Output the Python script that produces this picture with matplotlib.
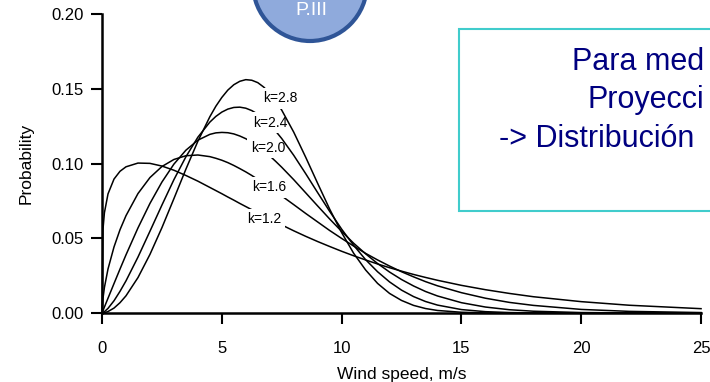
import numpy as np
import matplotlib
import matplotlib.pyplot as plt
from matplotlib.patches import Rectangle, Ellipse

matplotlib.use('agg')
plt.rcParams['font.family'] = ['Liberation Sans', 'DejaVu Sans']

# wind speed (m/s) and probability
speed = [0, 0.04, 0.1, 0.25, 0.5, 0.75, 1, 1.5, 2, 2.5, 3, 3.5, 4, 4.5, 4.75,
         5, 5.25, 5.5, 5.75, 6, 6.25, 6.5, 6.75, 7, 7.25, 7.5, 8, 8.5, 9,
         9.5, 10, 10.5, 11, 11.5, 12, 12.5, 13, 13.5, 14, 15, 16, 17, 18,
         20, 22, 25]

prob_k12 = [0, 0.0561, 0.0671, 0.0797, 0.0896, 0.0948, 0.0978, 0.1003, 0.1001,
            0.0983, 0.0955, 0.0920, 0.0882, 0.0840, 0.0819, 0.0798, 0.0776,
            0.0755, 0.0733, 0.0712, 0.0691, 0.0670, 0.0649, 0.0629, 0.0608,
            0.0589, 0.0550, 0.0513, 0.0478, 0.0445, 0.0413, 0.0383, 0.0355,
            0.0328, 0.0303, 0.0280, 0.0258, 0.0238, 0.0219, 0.0185, 0.0156,
            0.0131, 0.0109, 0.0076, 0.0052, 0.0029]
prob_k16 = [0, 0.0098, 0.0171, 0.0295, 0.0442, 0.0557, 0.0651, 0.0799, 0.0906,
            0.0980, 0.1027, 0.1052, 0.1057, 0.1046, 0.1035, 0.1022, 0.1006,
            0.0987, 0.0966, 0.0944, 0.0920, 0.0894, 0.0867, 0.0840, 0.0812,
            0.0783, 0.0725, 0.0666, 0.0609, 0.0552, 0.0499, 0.0448, 0.0399,
            0.0355, 0.0314, 0.0276, 0.0242, 0.0210, 0.0182, 0.0136, 0.0099,
            0.0071, 0.0051, 0.0024, 0.0011, 0.0003]
prob_k20 = [0, 0.0016, 0.0040, 0.0099, 0.0197, 0.0294, 0.0389, 0.0569, 0.0733,
            0.0876, 0.0996, 0.1089, 0.1156, 0.1195, 0.1205, 0.1208, 0.1206,
            0.1198, 0.1184, 0.1166, 0.1143, 0.1115, 0.1085, 0.1051, 0.1014,
            0.0975, 0.0892, 0.0804, 0.0716, 0.0629, 0.0546, 0.0467, 0.0396,
            0.0331, 0.0274, 0.0224, 0.0181, 0.0144, 0.0114, 0.0069, 0.0040,
            0.0022, 0.0012, 0.0003, 0.0001, 0.0]
prob_k24 = [0, 0.0001, 0.0009, 0.0031, 0.0082, 0.0145, 0.0215, 0.0374, 0.0547,
            0.0722, 0.0892, 0.1045, 0.1176, 0.1277, 0.1315, 0.1344, 0.1364,
            0.1375, 0.1377, 0.1370, 0.1354, 0.1330, 0.1299, 0.1260, 0.1216,
            0.1167, 0.1055, 0.0932, 0.0805, 0.0680, 0.0561, 0.0453, 0.0357,
            0.0276, 0.0208, 0.0153, 0.0110, 0.0077, 0.0053, 0.0023, 0.0009,
            0.0003, 0.0001, 0.0, 0.0, 0.0]
prob_k28 = [0, 0.0, 0.0002, 0.0010, 0.0033, 0.0069, 0.0115, 0.0237, 0.0392,
            0.0571, 0.0765, 0.0962, 0.1149, 0.1313, 0.1383, 0.1442, 0.1491,
            0.1527, 0.1550, 0.1561, 0.1557, 0.1541, 0.1511, 0.1470, 0.1419,
            0.1357, 0.1210, 0.1042, 0.0867, 0.0695, 0.0538, 0.0400, 0.0288,
            0.0198, 0.0131, 0.0084, 0.0051, 0.0030, 0.0017, 0.0005, 0.0001,
            0.0, 0.0, 0.0, 0.0, 0.0]

k_labels = ['k=1.2', 'k=1.6', 'k=2.0', 'k=2.4', 'k=2.8']
x_ticks = [0, 5, 10, 15, 20, 25]
y_ticks = [0.00, 0.05, 0.10, 0.15, 0.20]
box_lines = ['Para med', 'Proyecci', '-> Distribución']

# where the k labels sit (data coords)
label_pos = [(6.78, 0.0626), (6.99, 0.0840), (6.93, 0.1104),
             (7.04, 0.1274), (7.45, 0.1436)]

fig = plt.figure(figsize=(7.1, 3.82), dpi=100)
ax = fig.add_axes([0.1437, 0.1806, 0.8437, 0.7827])

curves = [prob_k12, prob_k16, prob_k20, prob_k24, prob_k28]
for i, (p, lab, pos) in enumerate(zip(curves, k_labels, label_pos)):
    z = 3 + 2 * i
    ax.plot(speed, p, color='black', lw=1.1, zorder=z, clip_on=False)
    ax.text(pos[0], pos[1], lab, fontsize=10, ha='center', va='center',
            zorder=z + 1,
            bbox=dict(facecolor='white', edgecolor='none', pad=2.5))

ax.set_xlim(0, 25)
ax.set_ylim(0, 0.20)
ax.spines['top'].set_visible(False)
ax.spines['right'].set_visible(False)
ax.spines['left'].set_linewidth(1.8)
ax.spines['bottom'].set_linewidth(1.8)
ax.set_xticks(x_ticks)
ax.set_xticklabels([str(t) for t in x_ticks])
ax.set_yticks(y_ticks)
ax.set_yticklabels(['%.2f' % t for t in y_ticks])
ax.tick_params(direction='out', length=8, width=1.5, labelsize=12)
ax.tick_params(axis='x', pad=12)
ax.tick_params(axis='y', pad=5)
ax.set_xlabel('Wind speed, m/s', fontsize=12.5, labelpad=8)
ax.set_ylabel('Probability', fontsize=12.5, labelpad=13)

# text box on the right, cut by the edge of the picture
rect = Rectangle((459 / 710, 171 / 382), 300 / 710, 182 / 382,
                 transform=fig.transFigure, facecolor='white',
                 edgecolor='#40CCCC', lw=1.5, clip_on=False)
fig.add_artist(rect)
box_x = [572, 588, 499]
box_base = [70, 108, 147]
for txt, bx, by in zip(box_lines, box_x, box_base):
    fig.text(bx / 710, (382 - by) / 382, txt, color='#000080', fontsize=22,
             ha='left', va='baseline')

# blue badge at the top
circ = Ellipse((310 / 710, 398 / 382), 114 / 710, 114 / 382,
               transform=fig.transFigure, facecolor='#8FAADC',
               edgecolor='#2F5597', lw=3)
fig.add_artist(circ)
fig.text(311 / 710, 380 / 382, 'P.III', color='white', fontsize=14,
         ha='center', va='top')

fig.savefig('out.png', dpi=100)
